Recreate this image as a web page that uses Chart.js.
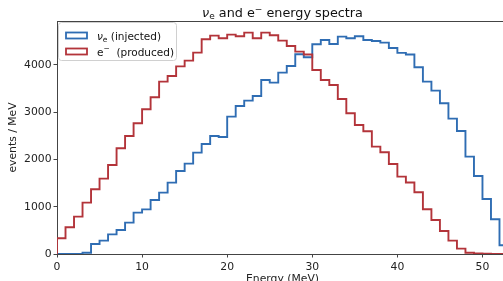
<!DOCTYPE html>
<html>
<head>
<meta charset="utf-8">
<script src="https://cdn.jsdelivr.net/npm/chart.js@4/dist/chart.umd.min.js"></script>
<style>
  html, body { margin: 0; padding: 0; overflow: hidden; background: #fff; }
  #wrap { width: 515px; height: 292px; }
</style>
</head>
<body>
<div id="wrap"><canvas id="specChart" width="515" height="292"></canvas></div>
<script>
// 1 MeV bins, lower edges 0..52
const binEdges = [];
for (let i = 0; i <= 53; i++) binEdges.push(i);

const nuE = [0, 0, 0, 28, 212, 282, 416, 508, 663, 875,
  945, 1143, 1298, 1510, 1757, 1912, 2145, 2328, 2497, 2476,
  2906, 3132, 3245, 3344, 3683, 3626, 3837, 3979, 4226, 4163,
  4438, 4529, 4444, 4600, 4565, 4606, 4529, 4508, 4473, 4360,
  4255, 4222, 3951, 3647, 3456, 3189, 2864, 2603, 2060, 1651,
  1164, 734, 184];

const eMinus = [332, 565, 790, 1086, 1369, 1594, 1884, 2237, 2497, 2766,
  3062, 3316, 3647, 3767, 3970, 4091, 4260, 4544, 4620, 4565,
  4642, 4606, 4684, 4565, 4684, 4628, 4515, 4402, 4282, 4220,
  3894, 3683, 3577, 3280, 2977, 2730, 2596, 2271, 2152, 1905,
  1637, 1514, 1305, 946, 720, 487, 282, 113, 28, 10,
  5, 3, 2];

const xTicks = [0, 10, 20, 30, 40, 50];
const yTicks = [0, 1000, 2000, 3000, 4000];

const blue = '#2f6db3';
const red = '#b3343a';
const font = 'DejaVu Sans';

// histogram outline: start at 0, one point per bin, drop to 0 at last edge
function stepPoints(vals) {
  const pts = [{ x: binEdges[0], y: 0 }];
  vals.forEach((v, i) => pts.push({ x: binEdges[i], y: v }));
  pts.push({ x: binEdges[vals.length], y: 0 });
  return pts;
}

// draw text pieces with sub/superscripts
function drawRich(ctx, parts, x, y, align) {
  let w = 0;
  parts.forEach(p => { ctx.font = p.f; w += ctx.measureText(p.t).width; });
  let cx = align === 'center' ? x - w / 2 : x;
  ctx.textAlign = 'left';
  ctx.textBaseline = 'alphabetic';
  parts.forEach(p => {
    ctx.font = p.f;
    ctx.fillText(p.t, cx, y + (p.dy || 0));
    cx += ctx.measureText(p.t).width;
  });
}

const decor = {
  id: 'decor',
  afterDraw(chart) {
    const { ctx, chartArea: a } = chart;
    ctx.save();
    // top spine
    ctx.strokeStyle = '#444';
    ctx.lineWidth = 1;
    ctx.beginPath();
    ctx.moveTo(a.left, a.top + 0.5);
    ctx.lineTo(a.right, a.top + 0.5);
    ctx.stroke();

    // title
    ctx.fillStyle = '#111';
    drawRich(ctx, [
      { t: 'ν', f: 'italic 12.8px ' + font },
      { t: 'e', f: '9px ' + font, dy: 2.5 },
      { t: ' and e', f: '12.8px ' + font },
      { t: '\u2212', f: '9px ' + font, dy: -5 },
      { t: ' energy spectra', f: '12.8px ' + font }
    ], (a.left + a.right) / 2, 16.5, 'center');

    // legend box
    const bx = 58.5, by = 22.5, bw = 118, bh = 38, r = 3;
    ctx.beginPath();
    ctx.moveTo(bx + r, by);
    ctx.arcTo(bx + bw, by, bx + bw, by + bh, r);
    ctx.arcTo(bx + bw, by + bh, bx, by + bh, r);
    ctx.arcTo(bx, by + bh, bx, by, r);
    ctx.arcTo(bx, by, bx + bw, by, r);
    ctx.closePath();
    ctx.fillStyle = 'rgba(255,255,255,0.8)';
    ctx.fill();
    ctx.strokeStyle = '#d0d0d0';
    ctx.stroke();

    const rows = [
      { c: blue, y: 35.5, parts: [
        { t: 'ν', f: 'italic 10.5px ' + font },
        { t: 'e', f: '7.5px ' + font, dy: 2 },
        { t: ' (injected)', f: '10.5px ' + font }] },
      { c: red, y: 51.5, parts: [
        { t: 'e', f: '10.5px ' + font },
        { t: '\u2212', f: '7.5px ' + font, dy: -4.5 },
        { t: '  (produced)', f: '10.5px ' + font }] }
    ];
    rows.forEach(row => {
      ctx.strokeStyle = row.c;
      ctx.lineWidth = 1.8;
      ctx.strokeRect(66, row.y - 3, 21, 6);
      ctx.fillStyle = '#111';
      drawRich(ctx, row.parts, 97, row.y + 4, 'left');
    });
    ctx.restore();
  }
};

const ctx = document.getElementById('specChart').getContext('2d');

const specChart = new Chart(ctx, {
  type: 'line',
  data: {
    datasets: [{
      label: 'νe (injected)',
      data: stepPoints(nuE),
      borderColor: blue,
      borderWidth: 1.9,
      stepped: 'before',
      pointRadius: 0,
      fill: false,
      order: 1
    }, {
      label: 'e− (produced)',
      data: stepPoints(eMinus),
      borderColor: red,
      borderWidth: 1.9,
      stepped: 'before',
      pointRadius: 0,
      fill: false,
      order: 0
    }]
  },
  options: {
    responsive: false,
    animation: false,
    events: [],
    layout: { padding: { left: 0, right: 7, top: 21, bottom: 0 } },
    plugins: {
      legend: { display: false },
      title: { display: false },
      tooltip: { enabled: false }
    },
    scales: {
      x: {
        type: 'linear',
        min: 0,
        max: 53,
        afterFit(scale) { scale.height = 38; },
        afterBuildTicks(scale) { scale.ticks = xTicks.map(v => ({ value: v })); },
        border: { display: true, color: '#444', width: 1 },
        grid: { display: true, drawOnChartArea: false, drawTicks: true, tickLength: 3.5, color: '#444' },
        ticks: { color: '#222', padding: 3, maxRotation: 0, font: { family: font, size: 10.8 },
          callback: v => String(v) },
        title: { display: true, text: 'Energy (MeV)', color: '#222', padding: { top: 0, bottom: 6.5 }, font: { family: font, size: 10.8 } }
      },
      y: {
        min: 0,
        max: 4930,
        afterFit(scale) { scale.width = 57; },
        afterBuildTicks(scale) { scale.ticks = yTicks.map(v => ({ value: v })); },
        border: { display: true, color: '#444', width: 1 },
        grid: { display: true, drawOnChartArea: false, drawTicks: true, tickLength: 3.5, color: '#444' },
        ticks: { color: '#222', padding: 2, font: { family: font, size: 10.8 },
          callback: v => String(v) },
        title: { display: true, text: 'events / MeV', color: '#222', padding: { top: 7, bottom: 0 }, font: { family: font, size: 10.8 } }
      }
    }
  },
  plugins: [decor]
});
</script>
</body>
</html>
